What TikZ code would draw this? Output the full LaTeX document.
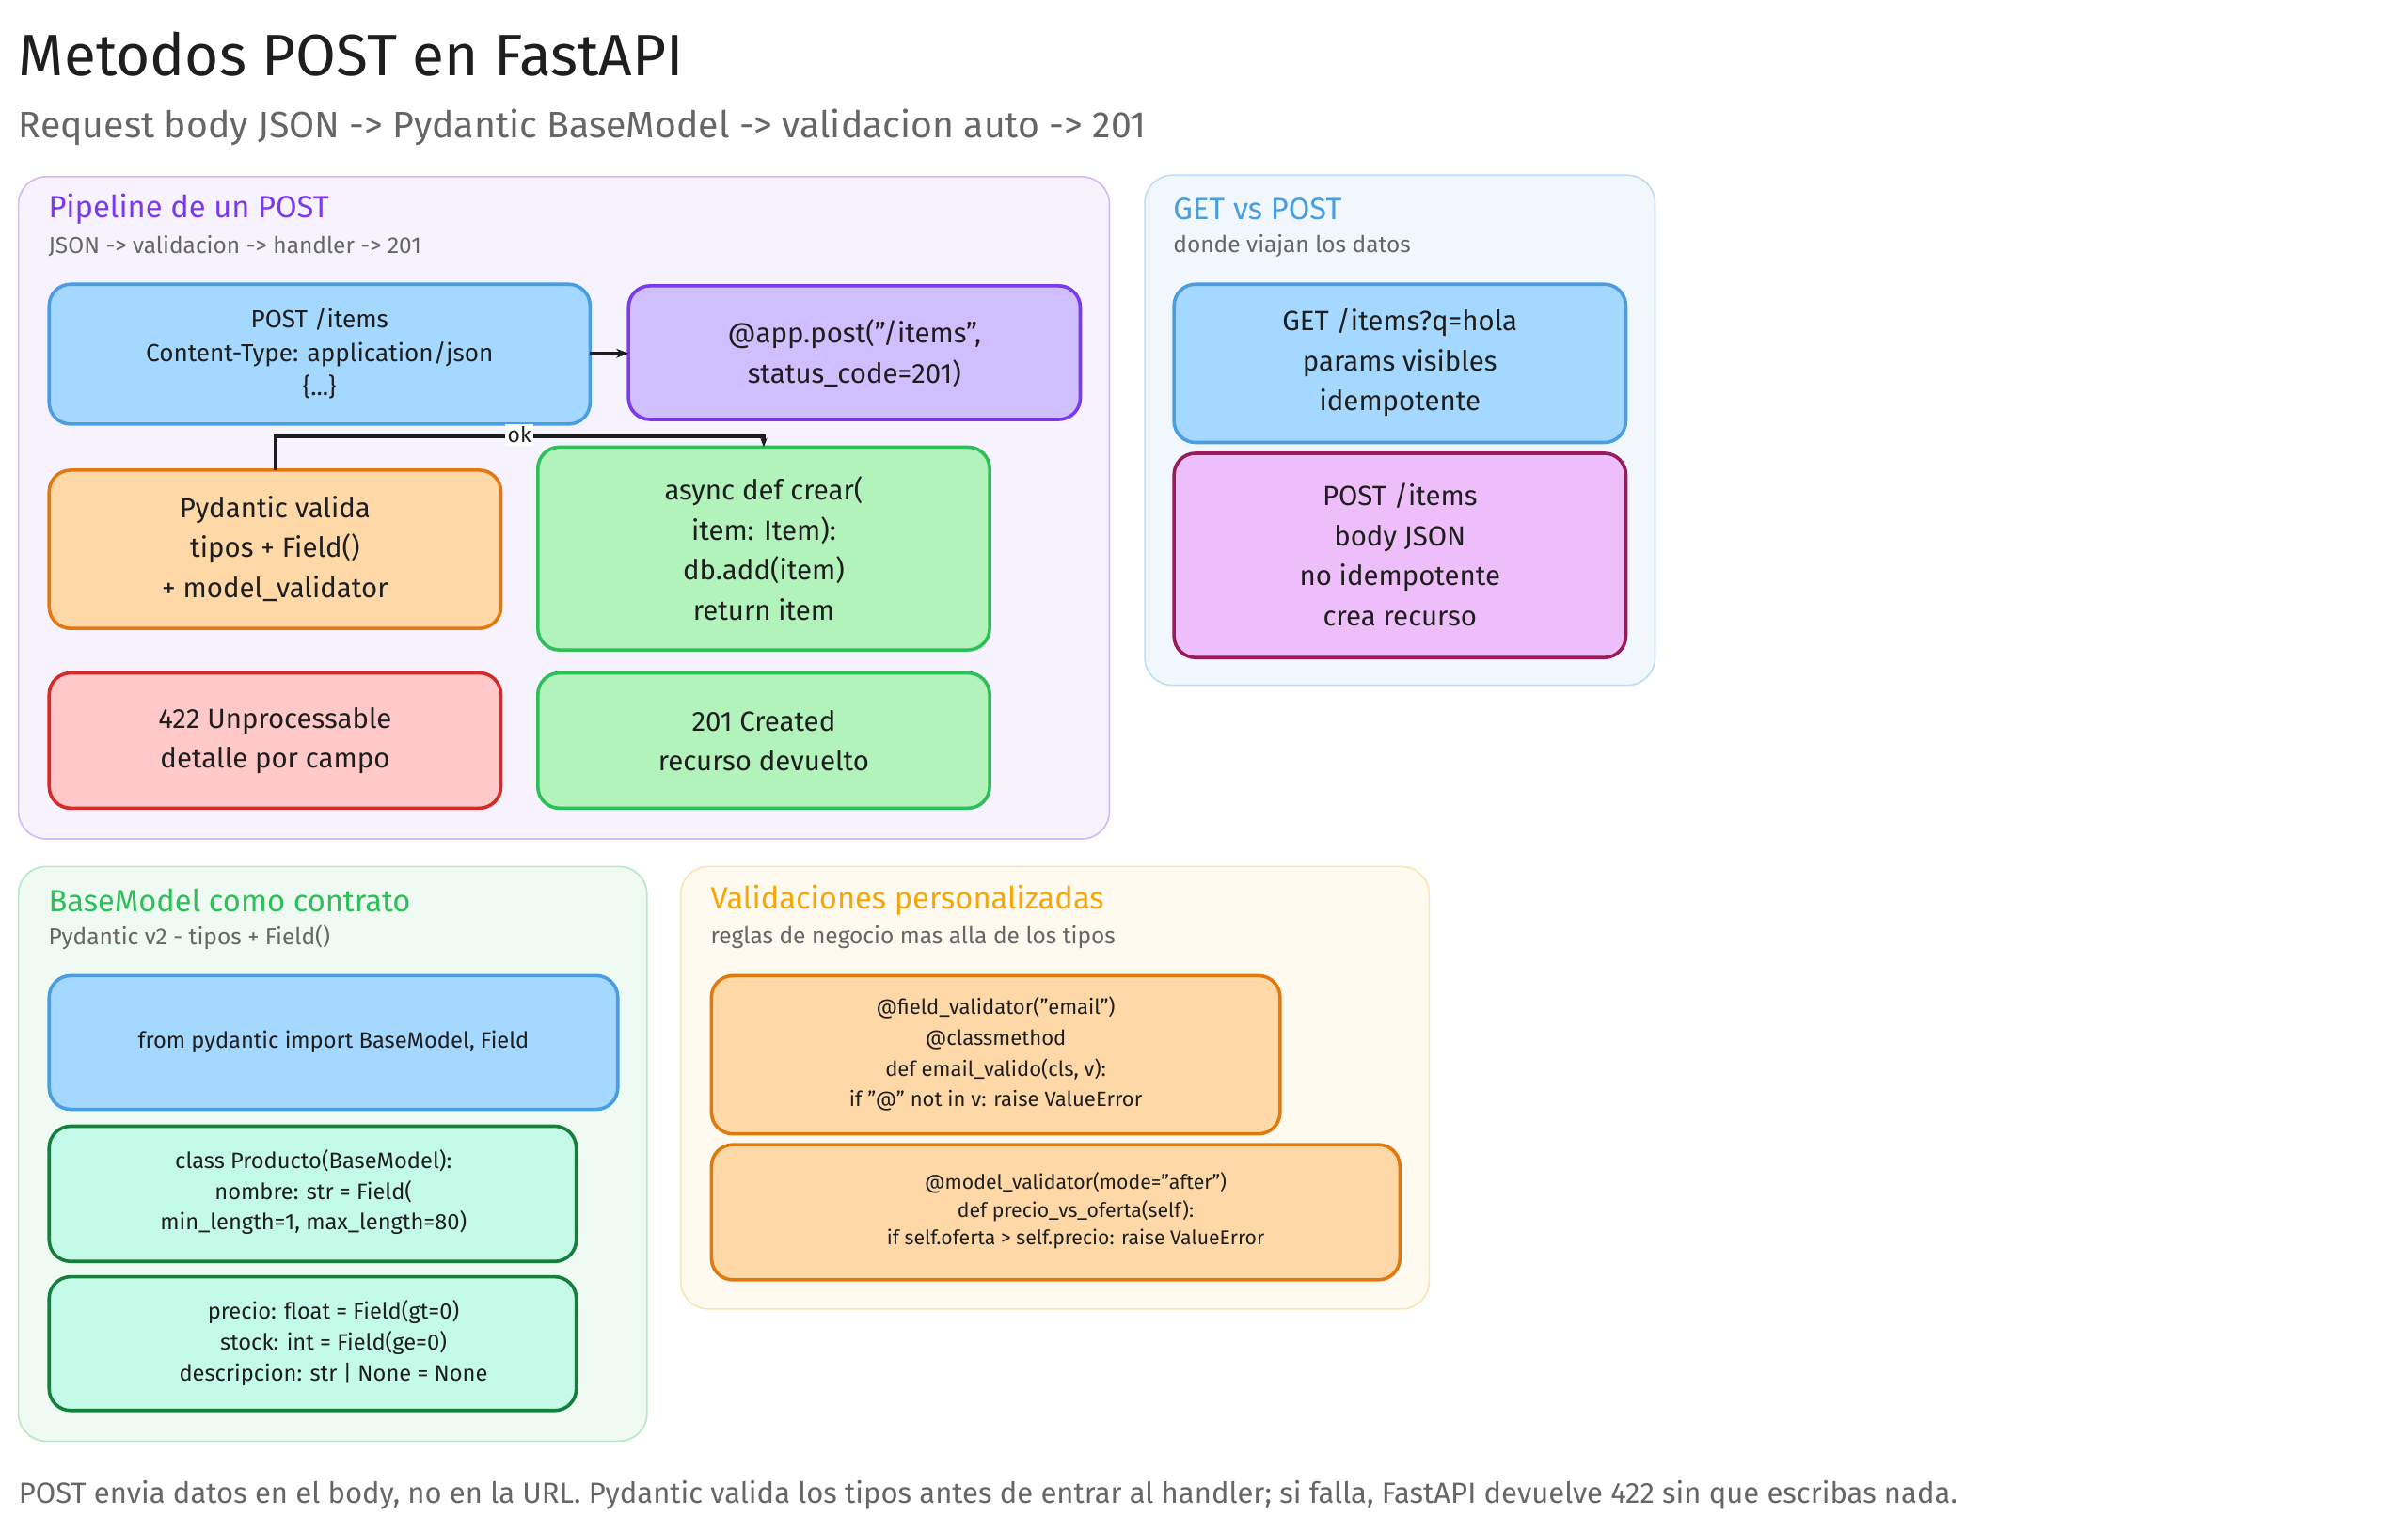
\documentclass[tikz,border=0pt]{standalone}
\usepackage{fontspec}
\setmainfont{Fira Sans}
\usetikzlibrary{arrows.meta}
\definecolor{bblue}{HTML}{A5D8FF}\definecolor{sblue}{HTML}{4A9DE0}
\definecolor{bviol}{HTML}{D0BFFF}\definecolor{sviol}{HTML}{7C3AED}
\definecolor{borange}{HTML}{FFD8A8}\definecolor{sorange}{HTML}{E07A10}
\definecolor{bred}{HTML}{FFC9C9}\definecolor{sred}{HTML}{D42A2A}
\definecolor{bgreen}{HTML}{B2F2BB}\definecolor{sgreen}{HTML}{2FBF5A}
\definecolor{bmint}{HTML}{C3FAE8}\definecolor{smint}{HTML}{15803D}
\definecolor{bpink}{HTML}{EEBEFA}\definecolor{spink}{HTML}{9C1A5A}
\definecolor{txt}{HTML}{1E1E1E}\definecolor{gr}{HTML}{666666}
\definecolor{yel}{HTML}{F5A70A}
\tikzset{
 box/.style={draw, line width=2.2pt, rounded corners=14pt},
 lbl/.style={align=center, font=\fontsize{18}{26}\selectfont, text=txt},
 sm/.style={align=center, font=\fontsize{13.5}{20}\selectfont, text=txt},
 panel/.style={line width=1pt, rounded corners=18pt},
 ptitle/.style={anchor=west, font=\fontsize{20}{22}\selectfont},
 psub/.style={anchor=west, font=\fontsize{15}{16}\selectfont, text=gr},
}
\begin{document}
\begin{tikzpicture}[x=1pt,y=-1pt]
\useasboundingbox (0,0) rectangle (1567,997);
\fill[white] (0,0) rectangle (1567,997);
\node[anchor=west, font=\fontsize{38}{40}\selectfont, text=txt, inner sep=0pt] (title) at (12,35) {Metodos POST en FastAPI};
\node[anchor=west, font=\fontsize{24}{26}\selectfont, text=gr, inner sep=0pt] (sub) at (12,83) {Request body JSON -> Pydantic BaseModel -> validacion auto -> 201};
% panels
\draw[panel, fill=sviol!6, draw=sviol!35] (12,115) rectangle (722,546);
\node[ptitle, text=sviol] (p1t) at (28,136) {Pipeline de un POST};
\node[psub] (p1s) at (28,160) {JSON -> validacion -> handler -> 201};
\draw[panel, fill=sblue!8, draw=sblue!35] (745,114) rectangle (1077,446);
\node[ptitle, text=sblue] (p2t) at (760,136) {GET vs POST};
\node[psub] (p2s) at (760,160) {donde viajan los datos};
\draw[panel, fill=sgreen!8, draw=sgreen!35] (12,564) rectangle (421,938);
\node[ptitle, text=sgreen] (p3t) at (28,586) {BaseModel como contrato};
\node[psub] (p3s) at (28,610) {Pydantic v2 - tipos + Field()};
\draw[panel, fill=yel!6, draw=yel!30] (443,564) rectangle (930,852);
\node[ptitle, text=yel] (p4t) at (459,586) {Validaciones personalizadas};
\node[psub] (p4s) at (459,610) {reglas de negocio mas alla de los tipos};
% pipeline boxes
\draw[box, fill=bblue, draw=sblue] (32,185) rectangle (384,276);
\node[lbl, font=\fontsize{16}{22}\selectfont] (a) at (208,230) {POST /items\\Content-Type: application/json\\\{...\}};
\draw[box, fill=bviol, draw=sviol] (409,186) rectangle (703,273);
\node[lbl] (b) at (556,230) {@app.post("/items",\\ status\_code=201)};
\draw[box, fill=borange, draw=sorange] (32,306) rectangle (326,409);
\node[lbl] (c) at (179,357) {Pydantic valida\\tipos + Field()\\+ model\_validator};
\draw[box, fill=bgreen, draw=sgreen] (350,291) rectangle (644,423);
\node[lbl] (d) at (497,357) {async def crear(\\item: Item):\\db.add(item)\\return item};
\draw[box, fill=bred, draw=sred] (32,438) rectangle (326,526);
\node[lbl] (e) at (179,482) {422 Unprocessable\\detalle por campo};
\draw[box, fill=bgreen, draw=sgreen] (350,438) rectangle (644,526);
\node[lbl] (f) at (497,482) {201 Created\\recurso devuelto};
\coordinate (aE) at (384,230); \coordinate (bW) at (409,230);
\coordinate (cN) at (179,306); \coordinate (dN) at (497,291);
\draw[line width=2pt, -{Stealth[length=8pt]}, txt] (aE) -- (bW);
\draw[line width=2pt, -{Stealth[length=6pt]}, txt] (cN) |- (338,284) -| (dN);
\node[fill=white, inner sep=1.5pt, font=\fontsize{14}{15}\selectfont, text=txt] (ok) at (338,283) {ok};
% GET vs POST
\draw[box, fill=bblue, draw=sblue] (764,185) rectangle (1058,288);
\node[lbl] (g) at (911,236) {GET /items?q=hola\\params visibles\\idempotente};
\draw[box, fill=bpink, draw=spink] (764,295) rectangle (1058,428);
\node[lbl] (h) at (911,361) {POST /items\\body JSON\\no idempotente\\crea recurso};
% BaseModel
\draw[box, fill=bblue, draw=sblue] (32,635) rectangle (402,722);
\node[sm, font=\fontsize{14.5}{20}\selectfont] (i) at (217,678) {from pydantic import BaseModel, Field};
\draw[box, fill=bmint, draw=smint] (32,733) rectangle (375,821);
\node[sm, font=\fontsize{14.5}{20}\selectfont] (j) at (204,776) {class Producto(BaseModel):\\nombre: str = Field(\\min\_length=1, max\_length=80)};
\draw[box, fill=bmint, draw=smint] (32,831) rectangle (375,918);
\node[sm, font=\fontsize{14.5}{20}\selectfont] (k) at (217,874) {precio: float = Field(gt=0)\\stock: int = Field(ge=0)\\descripcion: str | None = None};
% validaciones
\draw[box, fill=borange, draw=sorange] (463,635) rectangle (833,738);
\node[sm] (l) at (648,686) {@field\_validator("email")\\@classmethod\\def email\_valido(cls, v):\\if "@" not in v: raise ValueError};
\draw[box, fill=borange, draw=sorange] (463,745) rectangle (911,833);
\node[sm, font=\fontsize{13}{18}\selectfont] (m) at (700,788) {@model\_validator(mode="after")\\def precio\_vs\_oferta(self):\\if self.oferta > self.precio: raise ValueError};
\node[anchor=west, font=\fontsize{19}{20}\selectfont, text=gr, inner sep=0pt] (foot) at (12,973) {POST envia datos en el body, no en la URL. Pydantic valida los tipos antes de entrar al handler; si falla, FastAPI devuelve 422 sin que escribas nada.};
\end{tikzpicture}
\end{document}
